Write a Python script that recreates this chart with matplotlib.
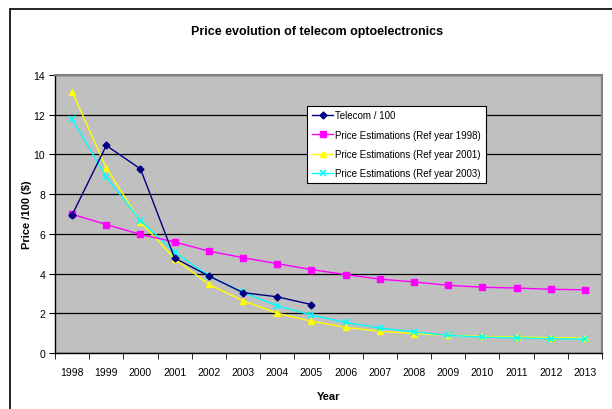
import matplotlib
matplotlib.use("Agg")
import matplotlib.pyplot as plt
from matplotlib.patches import Rectangle
import numpy as np

plt.rcParams["font.family"] = ["Liberation Sans", "DejaVu Sans"]

years = [str(y) for y in range(1998, 2014)]

telecom = [6.95, 10.45, 9.27, 4.78, 3.88, 3.04, 2.83, 2.44]
ref_1998 = [6.99, 6.47, 5.97, 5.59, 5.13, 4.80, 4.50, 4.20,
            3.95, 3.72, 3.58, 3.41, 3.31, 3.27, 3.21, 3.18]
ref_2001 = [13.16, 9.32, 6.61, 4.75, 3.46, 2.63, 2.00, 1.60,
            1.29, 1.09, 0.98, 0.89, 0.84, 0.80, 0.77, 0.75]
ref_2003 = [11.78, 8.87, 6.67, 5.08, 3.88, 3.06, 2.38, 1.91,
            1.54, 1.26, 1.06, 0.89, 0.80, 0.76, 0.72, 0.70]


def main():
    fig = plt.figure(figsize=(6.12, 4.10), dpi=100)
    # outer chart frame (runs off the right and bottom edges)
    fig.patches.append(Rectangle((10 / 612, -0.1), 1.2, 0.1 + 400 / 410,
                                 transform=fig.transFigure, fill=False,
                                 edgecolor="black", lw=1.2))

    ax = fig.add_axes([55 / 612, 56 / 410, 547 / 612, 278 / 410])
    ax.set_facecolor("#c0c0c0")

    x = np.arange(len(years))
    ax.plot(x[:len(telecom)], telecom, color="#000080", marker="D", ms=3.5,
            lw=1.0, label="Telecom / 100", zorder=5)
    ax.plot(x, ref_1998, color="#ff00ff", marker="s", ms=4, lw=1.0,
            label="Price Estimations (Ref year 1998)", zorder=4)
    ax.plot(x, ref_2001, color="#ffff00", marker="^", ms=4.5, lw=1.0,
            label="Price Estimations (Ref year 2001)", zorder=3)
    ax.plot(x, ref_2003, color="#00ffff", marker="x", ms=4.5, mew=1.2, lw=1.0,
            label="Price Estimations (Ref year 2003)", zorder=3)

    ax.set_xlim(-0.5, len(years) - 0.5)
    ax.set_ylim(0, 14)
    ax.set_yticks(range(0, 15, 2))
    ax.set_xticks(x)
    ax.set_xticklabels(years)
    ax.set_xticks(np.arange(-0.5, len(years)), minor=True)
    ax.tick_params(axis="x", which="major", length=0, pad=10, labelsize=7.5)
    ax.tick_params(axis="x", which="minor", length=4, direction="out")
    ax.tick_params(axis="y", length=4, direction="out", labelsize=7.5, pad=3)

    ax.grid(axis="y", color="black", lw=0.9)
    ax.set_axisbelow(True)
    for side in ("top", "right"):
        ax.spines[side].set_color("#808080")
        ax.spines[side].set_linewidth(1.5)
    ax.spines["left"].set_linewidth(1.0)
    ax.spines["bottom"].set_linewidth(1.0)

    ax.set_xlabel("Year", fontsize=8, fontweight="bold", labelpad=10)
    ax.set_ylabel("Price /100 ($)", fontsize=8, fontweight="bold", labelpad=1)
    fig.text(0.518, 1 - 32 / 410, "Price evolution of telecom optoelectronics",
             ha="center", va="center", fontsize=9, fontweight="bold")

    leg = ax.legend(loc="upper left", bbox_to_anchor=(0.461, 0.89), fontsize=7,
                    frameon=True, fancybox=False, edgecolor="black",
                    framealpha=1, borderpad=0.5, labelspacing=0.95,
                    handlelength=2.2, handletextpad=0.2, borderaxespad=0)
    leg.get_frame().set_linewidth(0.8)

    fig.savefig("out.png", dpi=100)
    plt.close(fig)


if __name__ == "__main__":
    main()
